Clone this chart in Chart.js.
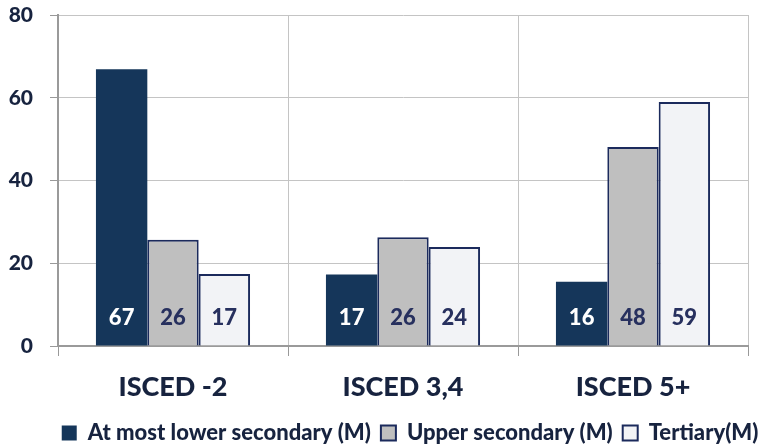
<!DOCTYPE html>
<html>
<head>
<meta charset="utf-8">
<script src="https://cdn.jsdelivr.net/npm/chart.js@4"></script>
<style>
html,body{margin:0;padding:0;background:#fff;}
#wrap{width:759px;height:446px;position:relative;}
</style>
</head>
<body>
<div id="wrap"><canvas id="c" width="759" height="446"></canvas></div>
<script>
const categories = ['ISCED -2', 'ISCED 3,4', 'ISCED 5+'];
const seriesNames = ['At most lower secondary (M)', 'Upper secondary (M)', 'Tertiary(M)'];
const lowerSecondary = [66.9, 17.3, 15.5];
const upperSecondary = [25.7, 26.3, 48.1];
const tertiary = [17.4, 23.9, 59.0];
const yTicks = [0, 20, 40, 60, 80];

const NAVY = '#1b2a5c';
const TEXT = '#17233f';
const FONT = 'Lato, "Open Sans", sans-serif';

const labelPlugin = {
  id: 'barLabels',
  afterLayout(chart) {
    // shift the legend to the right like the reference
    const lg = chart.legend;
    if (lg) { lg.left += 36; lg.right += 36; }
  },
  afterDatasetsDraw(chart) {
    const ctx = chart.ctx;
    ctx.save();
    ctx.font = '900 22px ' + FONT;
    ctx.textAlign = 'center';
    ctx.textBaseline = 'middle';
    chart.data.datasets.forEach((ds, i) => {
      const meta = chart.getDatasetMeta(i);
      meta.data.forEach((bar, j) => {
        ctx.fillStyle = i === 0 ? '#ffffff' : '#27305e';
        const y = chart.scales.y.getPixelForValue(0) - 28;
        ctx.fillText(Math.round(ds.data[j]).toString(), bar.x, y);
      });
    });
    ctx.restore();
  }
};

new Chart(document.getElementById('c'), {
  type: 'bar',
  data: {
    labels: categories,
    datasets: [
      { label: seriesNames[0], data: lowerSecondary, backgroundColor: '#15365a', borderColor: '#15365a', borderWidth: 0 },
      { label: seriesNames[1], data: upperSecondary, backgroundColor: '#bfbfbf', borderColor: NAVY, borderWidth: 2 },
      { label: seriesNames[2], data: tertiary, backgroundColor: '#f2f3f6', borderColor: NAVY, borderWidth: 2 }
    ]
  },
  options: {
    responsive: false,
    animation: false,
    devicePixelRatio: 1,
    layout: { padding: { top: 15, right: 11, left: 0, bottom: -8 } },
    datasets: { bar: { barPercentage: 1.0, categoryPercentage: 0.67 } },
    plugins: {
      tooltip: { enabled: false },
      legend: {
        position: 'bottom',
        labels: {
          boxWidth: 15, boxHeight: 15, padding: 10,
          color: TEXT,
          font: { family: FONT, size: 22, weight: '900' }
        }
      }
    },
    scales: {
      x: {
        afterFit: (s) => { s.height = 66; s.paddingLeft = 0; s.paddingRight = 0; },
        grid: { color: '#c4c4c4', tickLength: 10, drawTicks: true, tickColor: '#999', offset: true },
        border: { color: '#9a9a9a', width: 2 },
        ticks: { color: TEXT, font: { family: FONT, size: 27, weight: '900' }, padding: 15 }
      },
      y: {
        min: 0, max: 80,
        afterFit: (s) => { s.width = 58; s.paddingTop = 0; s.paddingBottom = 0; },
        afterBuildTicks: (axis) => { axis.ticks = yTicks.map(v => ({ value: v })); },
        grid: { color: '#c4c4c4', tickLength: 8, tickColor: '#999' },
        border: { color: '#9a9a9a', width: 2 },
        ticks: { color: TEXT, font: { family: FONT, size: 21, weight: '900' }, padding: 17 }
      }
    }
  },
  plugins: [labelPlugin]
});
</script>
</body>
</html>
